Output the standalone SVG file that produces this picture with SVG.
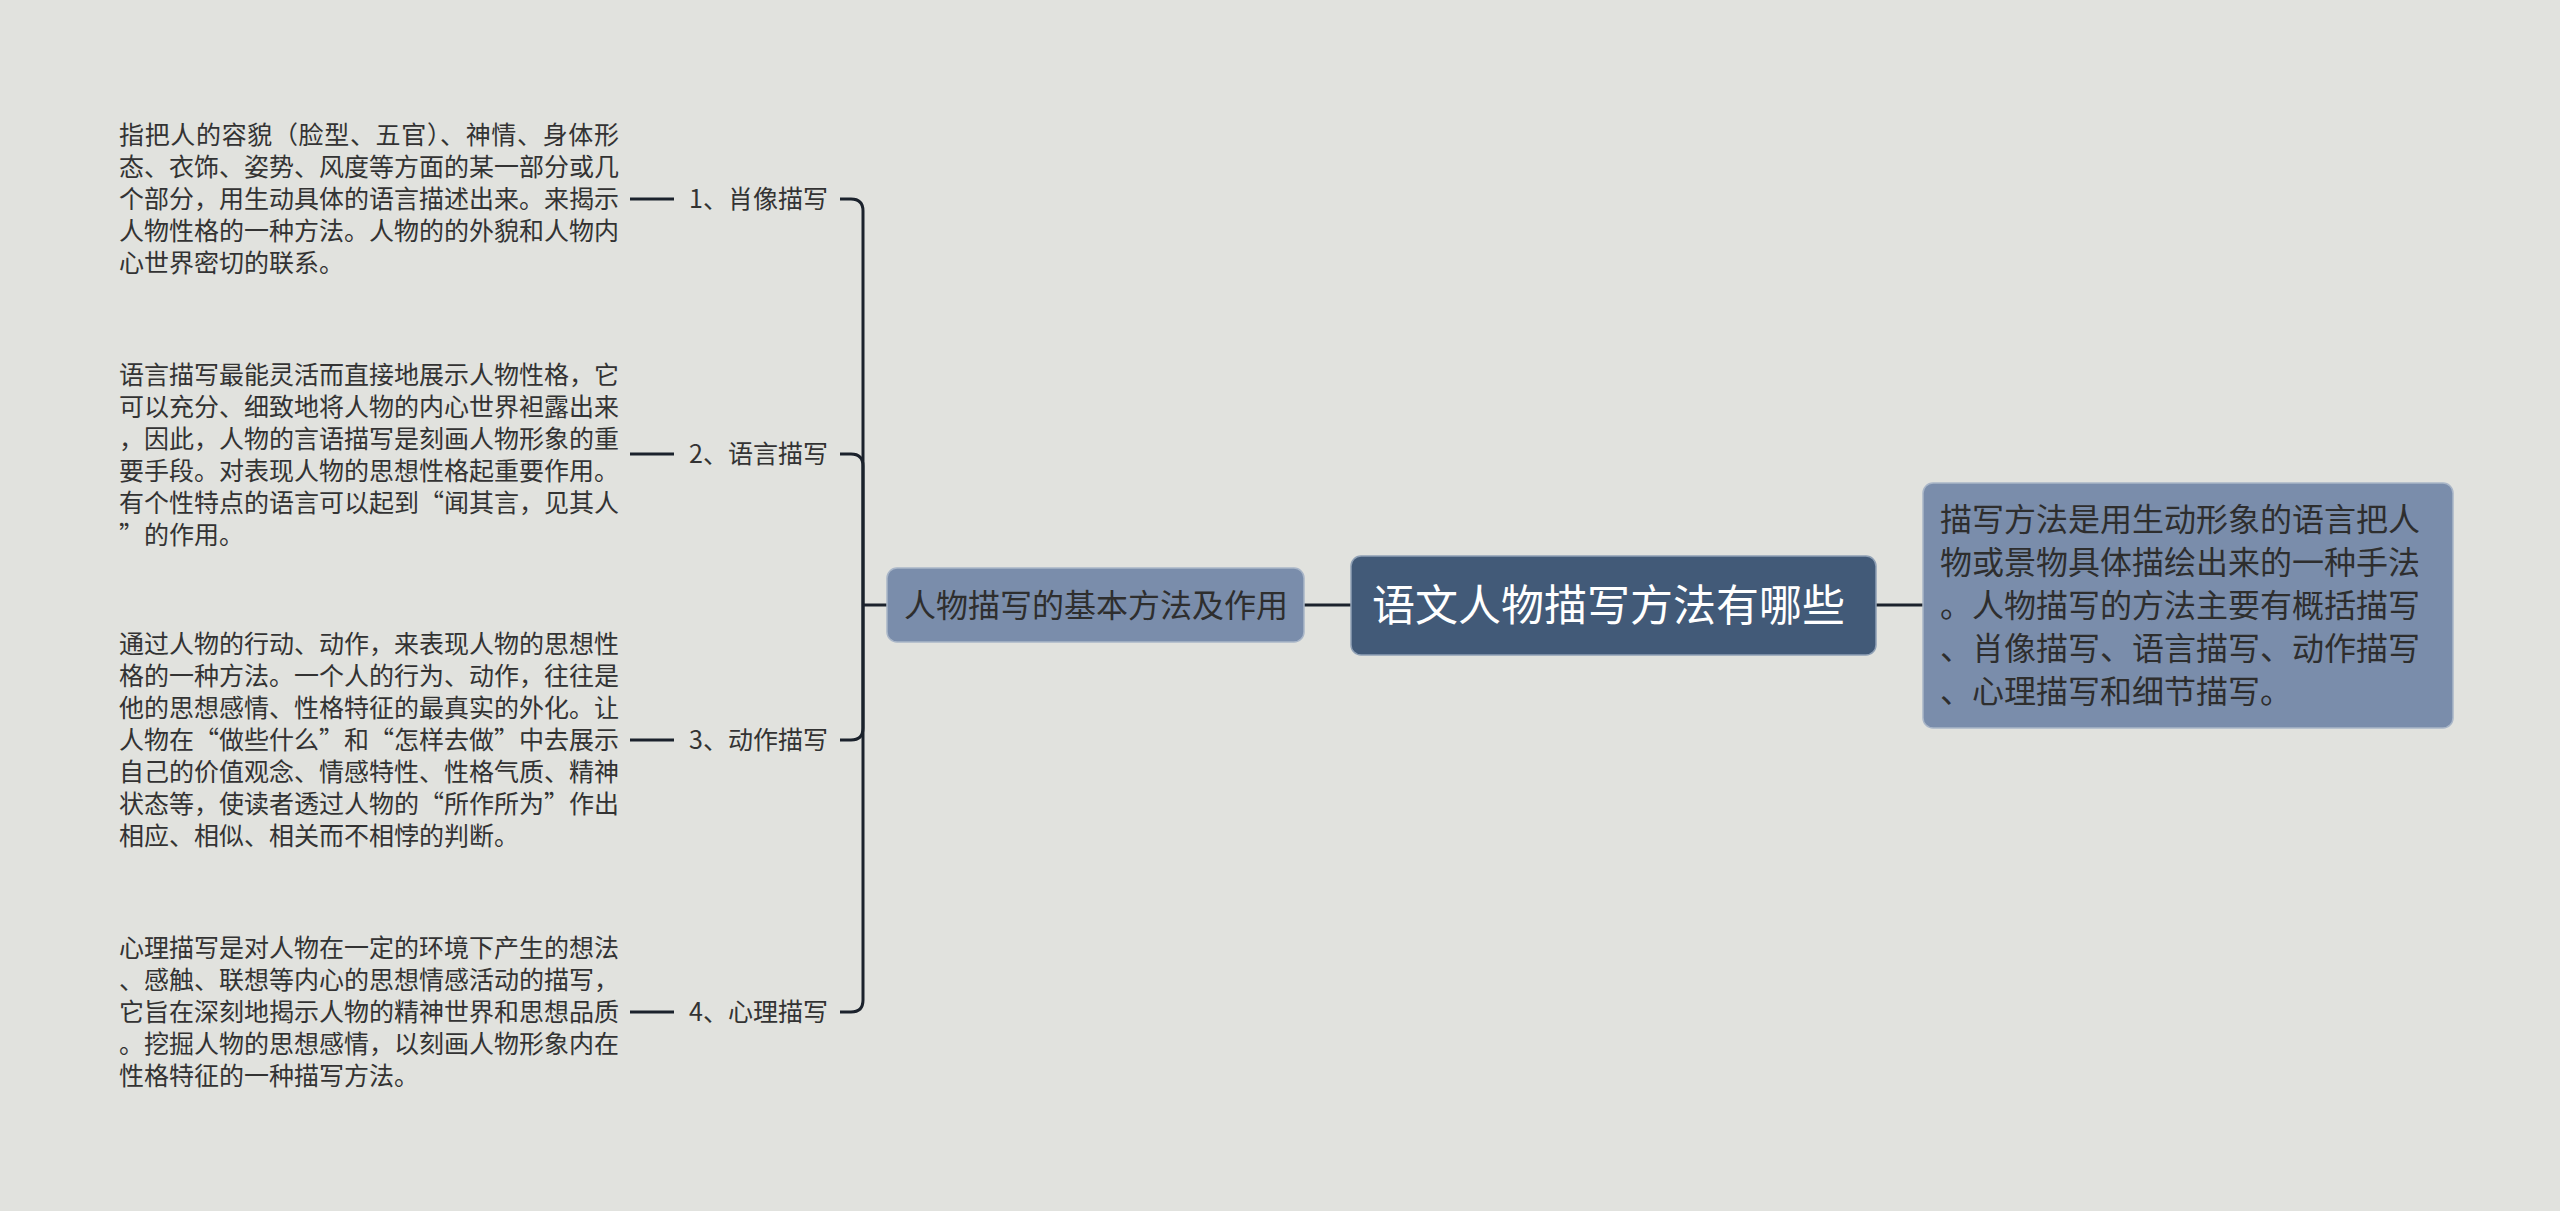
<svg xmlns="http://www.w3.org/2000/svg" width="2560" height="1211" viewBox="0 0 2560 1211">
<style>
text{font-family:"Noto Sans CJK SC","Noto Sans",sans-serif;}
.desc{font-size:25px;fill:#333333;}
.lbl{font-size:25px;fill:#333333;}
.sub{font-size:32px;fill:#2e2e2e;}
.root{font-size:43px;fill:#ffffff;}
.note{font-size:32px;fill:#2e2e2e;}
.ln{fill:none;stroke:#1b222c;stroke-width:3;}
</style>
<rect width="2560" height="1211" fill="#e1e2de"/>
<g id="connectors">
<path class="ln" d="M863 605 V211 Q863 199 851 199 H840"/>
<path class="ln" d="M863 605 V466 Q863 454 851 454 H840"/>
<path class="ln" d="M863 605 V728 Q863 740 851 740 H840"/>
<path class="ln" d="M863 605 V1000 Q863 1012 851 1012 H840"/>
<path class="ln" d="M863 605 H887"/>
<path class="ln" d="M1304 605 H1351"/>
<path class="ln" d="M1876 605 H1923"/>
<path class="ln" d="M630 199 H674"/>
<path class="ln" d="M630 454 H674"/>
<path class="ln" d="M630 740 H674"/>
<path class="ln" d="M630 1012 H674"/>
</g>
<g id="root">
<rect x="1351" y="556" width="525" height="99" rx="10" fill="#425a78" stroke="#8fa0b5" stroke-width="1.5"/>
<text class="root" x="1372" y="621">语文人物描写方法有哪些</text>
</g>
<g id="sub">
<rect x="887" y="568" width="417" height="74" rx="10" fill="#7a8dab" stroke="#a9b6c8" stroke-width="1.5"/>
<text class="sub" x="904" y="617">人物描写的基本方法及作用</text>
</g>
<g id="note">
<rect x="1923" y="483" width="530" height="245" rx="10" fill="#7a8dab" stroke="#a9b6c8" stroke-width="1.5"/>
<text class="note" x="1940" y="531">描写方法是用生动形象的语言把人</text>
<text class="note" x="1940" y="574">物或景物具体描绘出来的一种手法</text>
<text class="note" x="1940" y="617">。人物描写的方法主要有概括描写</text>
<text class="note" x="1940" y="660">、肖像描写、语言描写、动作描写</text>
<text class="note" x="1940" y="703">、心理描写和细节描写。</text>
</g>
<g id="item1">
<text class="lbl" x="689" y="208">1、肖像描写</text>
</g>
<g id="desc1">
<text class="desc" x="119" y="144" textLength="500" lengthAdjust="spacing">指把人的容貌（脸型、五官）、神情、身体形</text>
<text class="desc" x="119" y="176" textLength="500" lengthAdjust="spacing">态、衣饰、姿势、风度等方面的某一部分或几</text>
<text class="desc" x="119" y="208" textLength="500" lengthAdjust="spacing">个部分，用生动具体的语言描述出来。来揭示</text>
<text class="desc" x="119" y="240" textLength="500" lengthAdjust="spacing">人物性格的一种方法。人物的的外貌和人物内</text>
<text class="desc" x="119" y="272">心世界密切的联系。</text>
</g>
<g id="item2">
<text class="lbl" x="689" y="463">2、语言描写</text>
</g>
<g id="desc2">
<text class="desc" x="119" y="384" textLength="500" lengthAdjust="spacing">语言描写最能灵活而直接地展示人物性格，它</text>
<text class="desc" x="119" y="416" textLength="500" lengthAdjust="spacing">可以充分、细致地将人物的内心世界袒露出来</text>
<text class="desc" x="119" y="448" textLength="500" lengthAdjust="spacing">，因此，人物的言语描写是刻画人物形象的重</text>
<text class="desc" x="119" y="480" textLength="500" lengthAdjust="spacing">要手段。对表现人物的思想性格起重要作用。</text>
<text class="desc" x="119" y="512" textLength="500" lengthAdjust="spacing">有个性特点的语言可以起到“闻其言，见其人</text>
<text class="desc" x="119" y="544" textLength="125" lengthAdjust="spacing">”的作用。</text>
</g>
<g id="item3">
<text class="lbl" x="689" y="749">3、动作描写</text>
</g>
<g id="desc3">
<text class="desc" x="119" y="653" textLength="500" lengthAdjust="spacing">通过人物的行动、动作，来表现人物的思想性</text>
<text class="desc" x="119" y="685" textLength="500" lengthAdjust="spacing">格的一种方法。一个人的行为、动作，往往是</text>
<text class="desc" x="119" y="717" textLength="500" lengthAdjust="spacing">他的思想感情、性格特征的最真实的外化。让</text>
<text class="desc" x="119" y="749" textLength="500" lengthAdjust="spacing">人物在“做些什么”和“怎样去做”中去展示</text>
<text class="desc" x="119" y="781" textLength="500" lengthAdjust="spacing">自己的价值观念、情感特性、性格气质、精神</text>
<text class="desc" x="119" y="813" textLength="500" lengthAdjust="spacing">状态等，使读者透过人物的“所作所为”作出</text>
<text class="desc" x="119" y="845" textLength="400" lengthAdjust="spacing">相应、相似、相关而不相悖的判断。</text>
</g>
<g id="item4">
<text class="lbl" x="689" y="1021">4、心理描写</text>
</g>
<g id="desc4">
<text class="desc" x="119" y="957" textLength="500" lengthAdjust="spacing">心理描写是对人物在一定的环境下产生的想法</text>
<text class="desc" x="119" y="989" textLength="500" lengthAdjust="spacing">、感触、联想等内心的思想情感活动的描写，</text>
<text class="desc" x="119" y="1021" textLength="500" lengthAdjust="spacing">它旨在深刻地揭示人物的精神世界和思想品质</text>
<text class="desc" x="119" y="1053" textLength="500" lengthAdjust="spacing">。挖掘人物的思想感情，以刻画人物形象内在</text>
<text class="desc" x="119" y="1085">性格特征的一种描写方法。</text>
</g>
</svg>
